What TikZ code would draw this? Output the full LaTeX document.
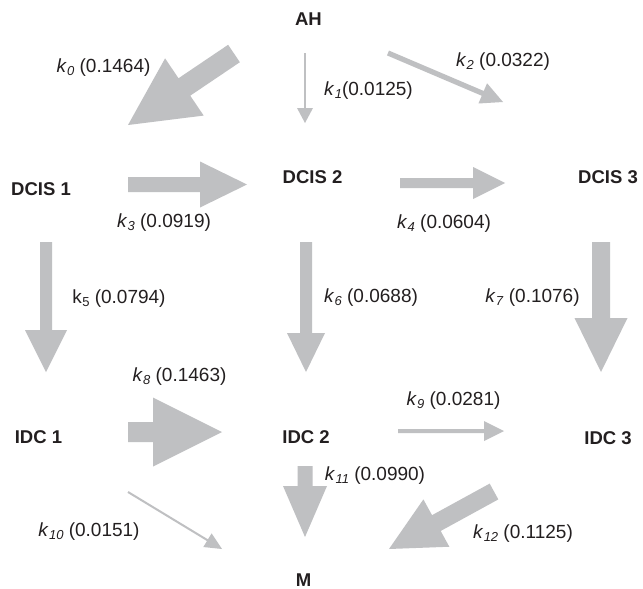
\documentclass[tikz,border=0pt]{standalone}
\usepackage{fontspec}
\setmainfont{Liberation Sans}
\usetikzlibrary{calc}
\definecolor{arrowgray}{RGB}{191,192,194}
\definecolor{inkc}{RGB}{35,31,32}
% tail, tip, half shaft width, half head width, head length
\newcommand\fatarrow[5]{%
  \coordinate (fab) at ($(#2)!#5!(#1)$);
  \fill[arrowgray] ($(#1)!#3!90:(#2)$) -- ($(fab)!#3!90:(#2)$) -- ($(fab)!#4!90:(#2)$)
    -- (#2) -- ($(fab)!#4!-90:(#2)$) -- ($(fab)!#3!-90:(#2)$) -- ($(#1)!#3!-90:(#2)$) -- cycle;}
\newcommand\ki[1]{\textit{k}\kern0.3pt\raisebox{-3pt}{\fontsize{13}{14}\selectfont\textit{#1}}}
\newcommand\ku[1]{k\kern0.3pt\raisebox{-3pt}{\fontsize{13}{14}\selectfont #1}}
\tikzset{
  state/.style={font=\fontsize{18.5}{20}\selectfont\bfseries, text=inkc, inner sep=0pt},
  rate/.style={font=\fontsize{19}{21}\selectfont, text=inkc, inner sep=0pt}
}
\begin{document}
\begin{tikzpicture}[x=1pt,y=-1pt]
\fill[white] (0,0) rectangle (643,589);
\useasboundingbox (0,0) rectangle (643,589);

% states
\node[state] (AH) at (308.5,19) {AH};
\node[state] (D1) at (41,189) {DCIS 1};
\node[state] (D2) at (312.5,177) {DCIS 2};
\node[state] (D3) at (608,177) {DCIS 3};
\node[state] (I1) at (38.5,437) {IDC 1};
\node[state] (I2) at (306,437) {IDC 2};
\node[state] (I3) at (608,438) {IDC 3};
\node[state] (M) at (303.5,580) {M};

% arrow end points
\coordinate (a0t) at (234,53.5);  \coordinate (a0h) at (128,125);
\coordinate (a1t) at (305,53);    \coordinate (a1h) at (305,123);
\coordinate (a2t) at (388,53);    \coordinate (a2h) at (503,102);
\coordinate (a3t) at (128,184.5); \coordinate (a3h) at (247,184.5);
\coordinate (a4t) at (400,183);   \coordinate (a4h) at (505,183);
\coordinate (a5t) at (46,242);    \coordinate (a5h) at (46,372);
\coordinate (a6t) at (306,242);   \coordinate (a6h) at (306,372);
\coordinate (a7t) at (601,242);   \coordinate (a7h) at (601,372);
\coordinate (a8t) at (128,432);   \coordinate (a8h) at (222,432);
\coordinate (a9t) at (398,431);   \coordinate (a9h) at (504,431);
\coordinate (a10t) at (128,492);  \coordinate (a10h) at (222,549);
\coordinate (a11t) at (305,466);  \coordinate (a11h) at (305,537);
\coordinate (a12t) at (494,491.5);\coordinate (a12h) at (389,549);

% arrows
\fatarrow{a0t}{a0h}{10.5pt}{34.5pt}{68pt}
\fatarrow{a1t}{a1h}{0.8pt}{8pt}{15pt}
\fatarrow{a2t}{a2h}{2.6pt}{11pt}{22pt}
\fatarrow{a3t}{a3h}{7.5pt}{23pt}{47pt}
\fatarrow{a4t}{a4h}{5pt}{16pt}{32pt}
\fatarrow{a5t}{a5h}{6pt}{21pt}{42pt}
\fatarrow{a6t}{a6h}{6pt}{19pt}{39pt}
\fatarrow{a7t}{a7h}{9pt}{26.5pt}{54pt}
\fatarrow{a8t}{a8h}{10pt}{34.5pt}{69pt}
\fatarrow{a9t}{a9h}{2pt}{10pt}{20pt}
\fatarrow{a10t}{a10h}{1pt}{8pt}{17pt}
\fatarrow{a11t}{a11h}{7.5pt}{22pt}{51pt}
\fatarrow{a12t}{a12h}{9pt}{27pt}{54pt}

% rate labels
\node[rate] (l0) at (103.5,68) {\ki{0} (0.1464)};
\node[rate] (l1) at (368.5,91) {\ki{1}(0.0125)};
\node[rate] (l2) at (503,62) {\ki{2} (0.0322)};
\node[rate] (l3) at (164,223) {\ki{3} (0.0919)};
\node[rate] (l4) at (444,224) {\ki{4} (0.0604)};
\node[rate] (l5) at (119,299) {\ku{5} (0.0794)};
\node[rate] (l6) at (371,298) {\ki{6} (0.0688)};
\node[rate] (l7) at (532.5,298) {\ki{7} (0.1076)};
\node[rate] (l8) at (179.5,377) {\ki{8} (0.1463)};
\node[rate] (l9) at (453.5,401) {\ki{9} (0.0281)};
\node[rate] (l10) at (89,532) {\ki{10} (0.0151)};
\node[rate] (l11) at (375,476) {\ki{11} (0.0990)};
\node[rate] (l12) at (523,534) {\ki{12} (0.1125)};
\end{tikzpicture}
\end{document}
